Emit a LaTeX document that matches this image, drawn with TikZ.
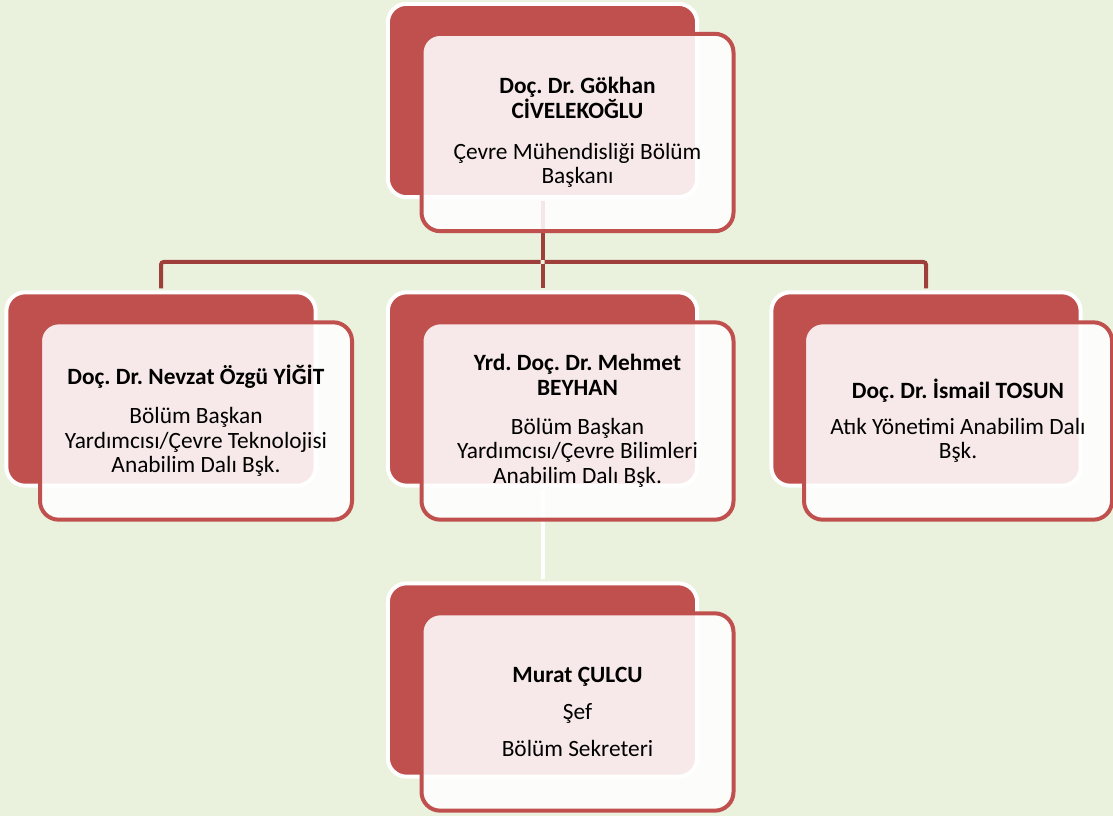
\documentclass[tikz,border=0pt]{standalone}
\usepackage{fontspec}
\setmainfont{Carlito}
\usepackage{tikz}
\definecolor{bgreen}{HTML}{EAF1DD}
\definecolor{bred}{HTML}{C0504D}
\definecolor{lred}{HTML}{9F3F3C}
\frenchspacing
\tikzset{
  back/.style={draw=white, line width=3pt, fill=bred, rounded corners=14pt,
    minimum width=232pt, minimum height=145pt},
  front/.style={draw=bred, line width=3pt, fill=white, fill opacity=0.88,
    text opacity=1, rounded corners=14pt, minimum width=234pt,
    minimum height=148pt, align=center, font=\fontsize{17.5}{18.5}\selectfont},
  conn/.style={lred, line width=3pt, rounded corners=2pt,
    shorten <=1.5pt, shorten >=1.5pt},
}

\begin{document}
\begin{tikzpicture}[x=0.75pt,y=-0.75pt]
      \useasboundingbox[fill=bgreen] (0,0) rectangle (1113,816);
      % back boxes
      \node[back] (cbB) at (542.5,100.5) {};
      \node[back] (nyB) at (161,389) {};
      \node[back] (mbB) at (542.5,389) {};
      \node[back] (itB) at (926,389) {};
      \node[back] (mcB) at (542.5,680) {};
      % connectors
      \coordinate (bus) at (542.5,262);
      \draw[conn] (cbB.south) -- (bus);
      \draw[conn] (bus) -| (nyB.north);
      \draw[conn] (bus) -| (itB.north);
      \draw[conn] (bus) -- (mbB.north);
      \draw[conn, white] (mbB.south) -- (mcB.north);
      % front boxes
      \node[front] (cb) at ([shift={(35,32)}]cbB) {\textbf{Doç. Dr. Gökhan}\\\textbf{CİVELEKOĞLU}\\[12pt]Çevre Mühendisliği Bölüm\\Başkanı};
      \node[front] (ny) at ([shift={(35,32)}]nyB) {\textbf{Doç. Dr. Nevzat Özgü YİĞİT}\\[10.5pt]Bölüm Başkan\\Yardımcısı/Çevre Teknolojisi\\Anabilim Dalı Bşk.};
      \node[front] (mb) at ([shift={(35,32)}]mbB) {\textbf{Yrd. Doç. Dr. Mehmet}\\\textbf{BEYHAN}\\[10.5pt]Bölüm Başkan\\Yardımcısı/Çevre Bilimleri\\Anabilim Dalı Bşk.};
      \node[front, minimum width=231pt] (it) at ([shift={(32,32)}]itB) {\textbf{Doç. Dr. İsmail TOSUN}\\[8pt]Atık Yönetimi Anabilim Dalı\\Bşk.};
      \node[front] (mc) at ([shift={(35,32)}]mcB) {\textbf{Murat ÇULCU}\\[9pt]Şef\\[9pt]Bölüm Sekreteri};
    \end{tikzpicture}
\end{document}
